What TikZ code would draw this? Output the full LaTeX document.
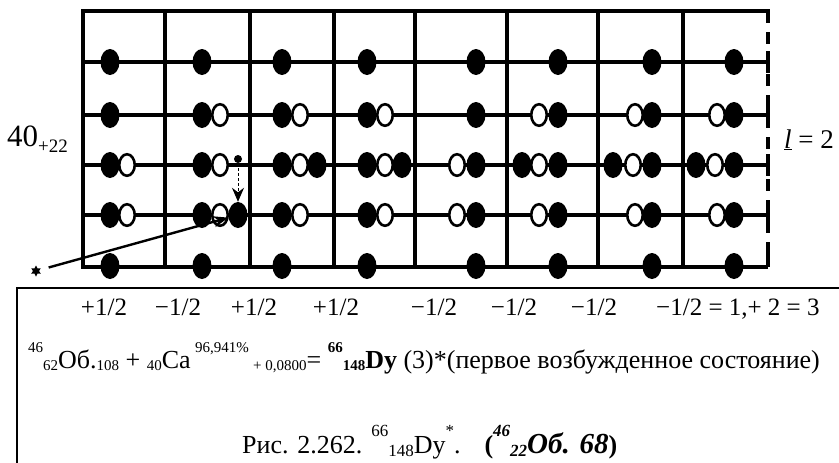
\documentclass[tikz,border=0pt]{standalone}
\usepackage{fontspec}
\setmainfont{Liberation Serif}
\usetikzlibrary{arrows.meta,shapes.geometric}
\newcommand\supx[1]{\raisebox{0.6em}{\fontsize{15}{15}\selectfont #1}}
\newcommand\subx[1]{\raisebox{-0.1em}{\fontsize{15}{15}\selectfont #1}}
\newcommand\supy[1]{\raisebox{0.62em}{\fontsize{17}{17}\selectfont #1}}
\newcommand\suby[1]{\raisebox{-0.14em}{\fontsize{17}{17}\selectfont #1}}
\begin{document}
\begin{tikzpicture}[x=1pt,y=-1pt,
  gridline/.style={line width=3.2pt,line cap=rect},
  rowline/.style={line width=3.2pt},
  boxline/.style={line width=2.4pt},
  fe/.style={ellipse,fill=black,minimum width=19pt,minimum height=26pt,inner sep=0pt},
  oe/.style={ellipse,draw=black,fill=white,line width=2.6pt,minimum width=15.5pt,minimum height=21.5pt,inner sep=0pt},
  txt/.style={inner sep=0pt,anchor=base},
  spinlab/.style={txt,font=\fontsize{25}{25}\selectfont}]
\useasboundingbox (0,0) rectangle (839,463);
% grid
\draw[gridline] (83,11) -- (768,11);
\foreach \yy in {62,115,165,215,267} \draw[rowline] (83,\yy) -- (768,\yy);
\foreach \xx in {83,165,250,334,415,507,598,683} \draw[gridline] (\xx,11) -- (\xx,267);
\draw[line width=4pt,dash pattern=on 12pt off 9pt] (768,11) -- (768,267);
\foreach \yy in {62,115,165,215,256} \draw[line width=4pt] (768,\yy-11) -- (768,\yy+11);
\draw[line width=4pt] (768,11) -- (768,20);
% electrons
\foreach \xx/\yy/\tt [count=\i] in {
  110/62/fe,202/62/fe,282/62/fe,367/62/fe,476/62/fe,558/62/fe,652/62/fe,734/62/fe,
  110/115/fe,202/115/fe,220/115/oe,282/115/fe,300/115/oe,367/115/fe,385/115/oe,476/115/fe,
  539/115/oe,558/115/fe,635/115/oe,652/115/fe,717/115/oe,734/115/fe,
  110/165/fe,127/165/oe,202/165/fe,220/165/oe,282/165/fe,300/165/oe,317/165/fe,
  367/165/fe,385/165/oe,402/165/fe,457/165/oe,476/165/fe,522/165/fe,539/165/oe,558/165/fe,
  613/165/fe,633/165/oe,652/165/fe,696/165/fe,715/165/oe,734/165/fe,
  110/215/fe,127/215/oe,202/215/fe,220/215/oe}
  \node[\tt] (e\i) at (\xx,\yy) {};
\node[fe] (added) at (238,215) {};
\foreach \xx/\yy/\tt [count=\i] in {
  282/215/fe,300/215/oe,367/215/fe,385/215/oe,457/215/oe,476/215/fe,
  539/215/oe,558/215/fe,635/215/oe,652/215/fe,717/215/oe,734/215/fe,
  110/266/fe,202/266/fe,282/266/fe,367/266/fe,476/266/fe,558/266/fe,652/266/fe,734/266/fe}
  \node[\tt] (f\i) at (\xx,\yy) {};
% arrows
\node[circle,fill=black,minimum size=8pt,inner sep=0pt] (sd) at (238,159) {};
\draw[line width=1pt,dash pattern=on 3pt off 2pt,-{Stealth[length=14pt,width=12pt]}] (sd) -- (added);
\node[star,star points=6,star point ratio=1.8,fill=black,minimum size=11pt,inner sep=0pt] (star) at (36,271) {};
\draw[line width=2.4pt,shorten <=9pt,-{Stealth[length=15pt,width=11pt]}] (star) -- (added);
% side labels
\node[txt,anchor=base west] (n40) at (7,146) {\fontsize{31}{31}\selectfont 40\raisebox{-0.22em}{\fontsize{19}{19}\selectfont +22}};
\node[txt,anchor=base west,font=\fontsize{27}{27}\selectfont] (lval) at (784,148) {\underline{\textit{l}} = 2};
% lower box
\draw[boxline] (17,463) -- (17,288) -- (839,288);
\node[spinlab] (s1) at (104,315) {+1/2};
\node[spinlab] (s2) at (178,315) {−1/2};
\node[spinlab] (s3) at (254,315) {+1/2};
\node[spinlab] (s4) at (336,315) {+1/2};
\node[spinlab] (s5) at (434,315) {−1/2};
\node[spinlab] (s6) at (514,315) {−1/2};
\node[spinlab] (s7) at (594,315) {−1/2};
\node[spinlab,anchor=base west] (s8) at (656,315) {−1/2 = 1,+ 2 = 3};
\node[txt,anchor=base west,font=\fontsize{26}{26}\selectfont] (eq) at (28,368)
  {\supx{46}\subx{62}Об.\subx{108} + \subx{40}Ca\,\supx{96,941\%}\,\subx{+ 0,0800}= \textbf{\supx{66}\subx{148}Dy} (3)*(первое возбужденное состояние)};
\node[txt,anchor=base west,font=\fontsize{26}{26}\selectfont] (cap) at (242,453)
  {Рис. 2.262.\hspace{9pt}\supy{66}\suby{148}Dy\supy{*}.\hspace{24pt}\textbf{(\textit{\supy{46}\suby{22}\fontsize{29}{29}\selectfont Об. 68})}};
\end{tikzpicture}
\end{document}
